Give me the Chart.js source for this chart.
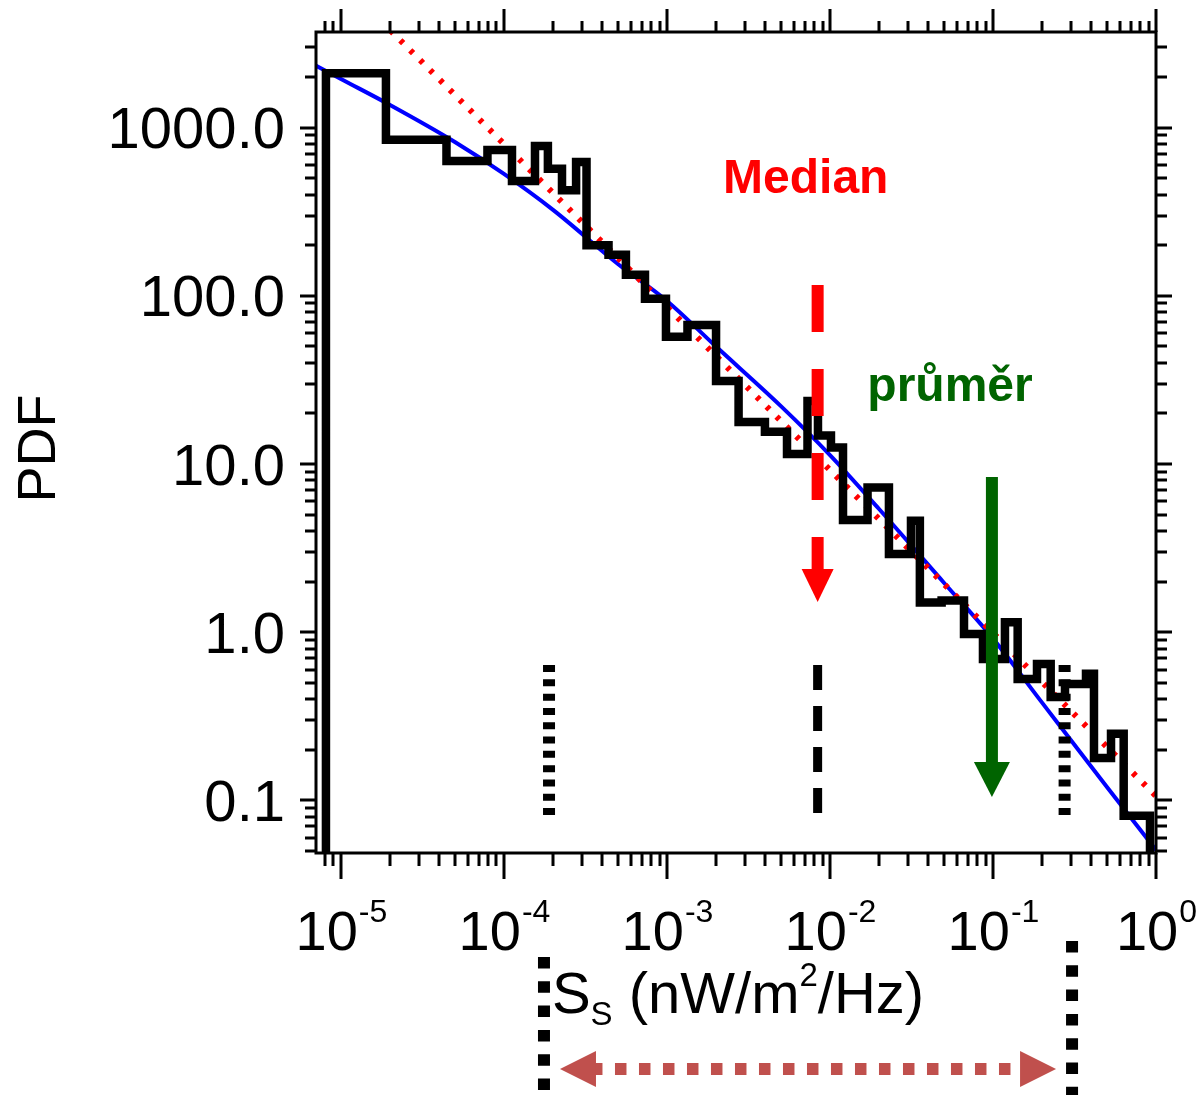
<!DOCTYPE html>
<html lang="cs">
<head>
<meta charset="utf-8">
<title>PDF S_S</title>
<script src="https://cdn.jsdelivr.net/npm/chart.js@4.4.1/dist/chart.umd.min.js"></script>
<style>
  html, body { margin: 0; padding: 0; background: #ffffff; }
  canvas { display: block; }
</style>
</head>
<body>
<canvas id="pdfChart" width="1198" height="1095"></canvas>
<script>
// x = S_S (nW/m^2/Hz), y = PDF, both log
const binEdges = [8.09e-6, 1.888e-5, 4.44e-5, 7.92e-5, 1.12e-4, 1.55e-4, 1.86e-4, 2.27e-4,
  2.77e-4, 3.21e-4, 4.38e-4, 5.60e-4, 7.33e-4, 9.86e-4, 1.336e-3, 2.0e-3, 2.75e-3, 3.99e-3,
  5.45e-3, 7.28e-3, 8.44e-3, 1.014e-2, 1.202e-2, 1.70e-2, 2.30e-2, 3.14e-2, 3.56e-2, 4.84e-2,
  6.64e-2, 8.68e-2, 0.1184, 0.1417, 0.1862, 0.2259, 0.2765, 0.372, 0.4164, 0.5297, 0.6335, 0.9188];
const binPdf = [2102, 847, 633, 736, 481, 777, 570, 424, 624, 200, 175.5, 133.5, 96.1, 57.1,
  67.1, 31.1, 17.77, 15.56, 11.47, 23.7, 14.77, 12.53, 4.65, 7.25, 2.917, 4.60, 1.502, 1.543,
  0.976, 0.693, 1.145, 0.527, 0.647, 0.412, 0.492, 0.567, 0.1787, 0.249, 0.0811];
const histFloor = 0.01; // empty outside the first/last edge

const fitS = [7e-6, 1e-5, 2e-5, 5e-5, 1e-4, 2e-4, 5e-4, 1e-3, 2e-3, 5e-3, 1e-2, 2e-2, 5e-2, 0.1, 0.2, 0.5, 1];
const fitPdf = [2339, 1945, 1363, 821, 530, 324, 154.6, 93.1, 49.9, 22.1, 11.31, 5.40, 1.969, 0.916, 0.3815, 0.1202, 0.0507];

const powerS = [1e-5, 1];
const powerPdf = [7439, 0.1062];

const xRange = [7.03e-6, 1];
const yRange = [0.0487, 3700];
const xTickExponents = [-5, -4, -3, -2, -1, 0];
const yTickValues = [0.1, 1, 10, 100, 1000];
const yTickLabels = ['0.1', '1.0', '10.0', '100.0', '1000.0'];

const medianS = 0.0084;
const medianArrowPdf = [116, 1.51];
const meanS = 0.0985;
const meanArrowPdf = [8.37, 0.1047];
const dottedMarkerS = [1.89e-4, 0.275];
const dashedMarkerS = [0.0084];
const markerPdf = [0.638, 0.0786];
const rangeS = [1.76e-4, 0.3055];
const medianLabelAt = [0.0071, 408];
const meanLabelAt = [0.0545, 23.7];

const FONT = '"Liberation Sans", Arial, sans-serif';
Chart.defaults.font.family = FONT;

const histPoints = [{ x: binEdges[0], y: histFloor }];
binPdf.forEach((v, i) => histPoints.push({ x: binEdges[i], y: v }));
histPoints.push({ x: binEdges[binEdges.length - 1], y: histFloor });

function arrowDown(ctx, x, yTop, yTip, width, headW, headH, color, dash) {
    ctx.save();
    ctx.strokeStyle = color;
    ctx.fillStyle = color;
    ctx.lineWidth = width;
    ctx.lineCap = 'butt';
    ctx.setLineDash(dash || []);
    ctx.beginPath();
    ctx.moveTo(x, yTop);
    ctx.lineTo(x, yTip - headH + 4);
    ctx.stroke();
    ctx.beginPath();
    ctx.moveTo(x - headW / 2, yTip - headH);
    ctx.lineTo(x + headW / 2, yTip - headH);
    ctx.lineTo(x, yTip);
    ctx.closePath();
    ctx.fill();
    ctx.restore();
}

function vline(ctx, x, y0, y1, width, dash) {
    ctx.save();
    ctx.strokeStyle = '#000';
    ctx.lineWidth = width;
    ctx.lineCap = 'butt';
    ctx.setLineDash(dash);
    ctx.beginPath();
    ctx.moveTo(x, y0);
    ctx.lineTo(x, y1);
    ctx.stroke();
    ctx.restore();
}

const decorations = {
    id: 'decorations',
    afterDatasetsDraw(chart) {
        const { ctx, chartArea: a, scales: { x, y } } = chart;

        // markers in the plot
        dottedMarkerS.forEach(s => vline(ctx, x.getPixelForValue(s), y.getPixelForValue(markerPdf[0]),
            y.getPixelForValue(markerPdf[1]), 12, [7, 7.3]));
        dashedMarkerS.forEach(s => vline(ctx, x.getPixelForValue(s), y.getPixelForValue(markerPdf[0]),
            y.getPixelForValue(markerPdf[1]), 9, [25, 16]));

        arrowDown(ctx, x.getPixelForValue(medianS), y.getPixelForValue(medianArrowPdf[0]),
            y.getPixelForValue(medianArrowPdf[1]), 12, 32, 33, '#ff0000', [47, 37]);
        arrowDown(ctx, x.getPixelForValue(meanS), y.getPixelForValue(meanArrowPdf[0]),
            y.getPixelForValue(meanArrowPdf[1]), 12, 36, 35, '#006400');

        ctx.save();
        ctx.textAlign = 'center';
        ctx.textBaseline = 'alphabetic';
        ctx.font = 'bold 48px ' + FONT;
        ctx.fillStyle = '#ff0000';
        ctx.fillText('Median', x.getPixelForValue(medianLabelAt[0]), y.getPixelForValue(medianLabelAt[1]));
        ctx.fillStyle = '#006400';
        ctx.fillText('průměr', x.getPixelForValue(meanLabelAt[0]), y.getPixelForValue(meanLabelAt[1]));
        ctx.restore();

        // frame and ticks
        ctx.save();
        ctx.strokeStyle = '#000';
        ctx.lineWidth = 3;
        ctx.strokeRect(a.left, a.top, a.right - a.left, a.bottom - a.top);
        ctx.beginPath();
        for (let e = -6; e <= 0; e++) {
            for (let m = 1; m <= 9; m++) {
                const v = m * Math.pow(10, e);
                if (v < x.min || v > x.max * 1.0001) continue;
                const p = Math.round(x.getPixelForValue(v));
                const major = m === 1;
                ctx.moveTo(p, a.bottom);
                ctx.lineTo(p, a.bottom + (major ? 26 : 13));
                ctx.moveTo(p, a.top);
                ctx.lineTo(p, a.top - (major ? 23 : 11));
            }
        }
        for (let e = -2; e <= 3; e++) {
            for (let m = 1; m <= 9; m++) {
                const v = m * Math.pow(10, e);
                if (v < y.min || v > y.max) continue;
                const p = Math.round(y.getPixelForValue(v));
                const major = m === 1;
                ctx.moveTo(a.left, p);
                ctx.lineTo(a.left - (major ? 16 : 11), p);
                ctx.moveTo(a.right, p);
                ctx.lineTo(a.right + (major ? 16 : 11), p);
            }
        }
        ctx.stroke();

        // tick labels
        ctx.fillStyle = '#000';
        ctx.textBaseline = 'alphabetic';
        ctx.textAlign = 'right';
        ctx.font = '58px ' + FONT;
        yTickValues.forEach((v, i) => {
            ctx.fillText(yTickLabels[i], a.left - 31, y.getPixelForValue(v) + 20.5);
        });
        ctx.textAlign = 'left';
        xTickExponents.forEach(k => {
            const p = x.getPixelForValue(Math.pow(10, k));
            const sup = String(k);
            ctx.font = '56px ' + FONT;
            const w1 = ctx.measureText('10').width;
            ctx.font = '32px ' + FONT;
            const w2 = ctx.measureText(sup).width;
            const x0 = p - (w1 + w2) / 2;
            ctx.font = '56px ' + FONT;
            ctx.fillText('10', x0, a.bottom + 97);
            ctx.font = '32px ' + FONT;
            ctx.fillText(sup, x0 + w1 + 1, a.bottom + 69);
        });

        // axis titles
        const runs = [
            { t: 'S', f: 58, dy: 0 },
            { t: 'S', f: 33, dy: 12 },
            { t: ' (nW/m', f: 58, dy: 0 },
            { t: '2', f: 33, dy: -27 },
            { t: '/Hz)', f: 58, dy: 0 }
        ];
        let total = 0;
        runs.forEach(r => { ctx.font = r.f + 'px ' + FONT; r.w = ctx.measureText(r.t).width; total += r.w; });
        let cx = (a.left + a.right) / 2 + 2 - total / 2;
        runs.forEach(r => {
            ctx.font = r.f + 'px ' + FONT;
            ctx.fillText(r.t, cx, a.bottom + 160 + r.dy);
            cx += r.w;
        });

        ctx.translate(40, (a.top + a.bottom) / 2 + 6);
        ctx.rotate(-Math.PI / 2);
        ctx.textAlign = 'center';
        ctx.textBaseline = 'middle';
        ctx.font = '54px ' + FONT;
        ctx.fillText('PDF', 0, 0);
        ctx.restore();

        // range below the axis
        const lo = x.getPixelForValue(rangeS[0]);
        const hi = x.getPixelForValue(rangeS[1]);
        vline(ctx, lo, a.bottom + 104, a.bottom + 237, 12, [11.5, 12.8]);
        vline(ctx, hi, a.bottom + 88, a.bottom + 242, 12, [11.5, 12.8]);
        const ya = a.bottom + 216;
        ctx.save();
        ctx.fillStyle = '#c0504d';
        ctx.strokeStyle = '#c0504d';
        ctx.lineWidth = 12;
        ctx.setLineDash([11.5, 12.5]);
        ctx.beginPath();
        ctx.moveTo(lo + 16 + 31, ya);
        ctx.lineTo(hi - 16 - 36, ya);
        ctx.stroke();
        ctx.beginPath();
        ctx.moveTo(lo + 16, ya);
        ctx.lineTo(lo + 52, ya - 18);
        ctx.lineTo(lo + 52, ya + 18);
        ctx.closePath();
        ctx.moveTo(hi - 16, ya);
        ctx.lineTo(hi - 52, ya - 18);
        ctx.lineTo(hi - 52, ya + 18);
        ctx.closePath();
        ctx.fill();
        ctx.restore();
    }
};

new Chart(document.getElementById('pdfChart'), {
    type: 'line',
    data: {
        datasets: [
            {
                label: 'PDF',
                data: histPoints,
                stepped: true,
                borderColor: '#000000',
                borderWidth: 8.5,
                borderJoinStyle: 'miter',
                pointRadius: 0,
                fill: false,
                order: 1
            },
            {
                label: 'power law',
                data: powerS.map((s, i) => ({ x: s, y: powerPdf[i] })),
                borderColor: '#ff0000',
                borderWidth: 6,
                borderDash: [4, 10],
                pointRadius: 0,
                fill: false,
                order: 2
            },
            {
                label: 'fit',
                data: fitS.map((s, i) => ({ x: s, y: fitPdf[i] })),
                borderColor: '#0000ff',
                borderWidth: 4,
                cubicInterpolationMode: 'monotone',
                pointRadius: 0,
                fill: false,
                order: 3
            }
        ]
    },
    options: {
        responsive: false,
        animation: false,
        layout: { padding: { left: 316, right: 42, top: 32, bottom: 242 } },
        plugins: { legend: { display: false }, tooltip: { enabled: false } },
        scales: {
            x: { type: 'logarithmic', min: xRange[0], max: xRange[1], display: false },
            y: { type: 'logarithmic', min: yRange[0], max: yRange[1], display: false }
        }
    },
    plugins: [decorations]
});
</script>
</body>
</html>
